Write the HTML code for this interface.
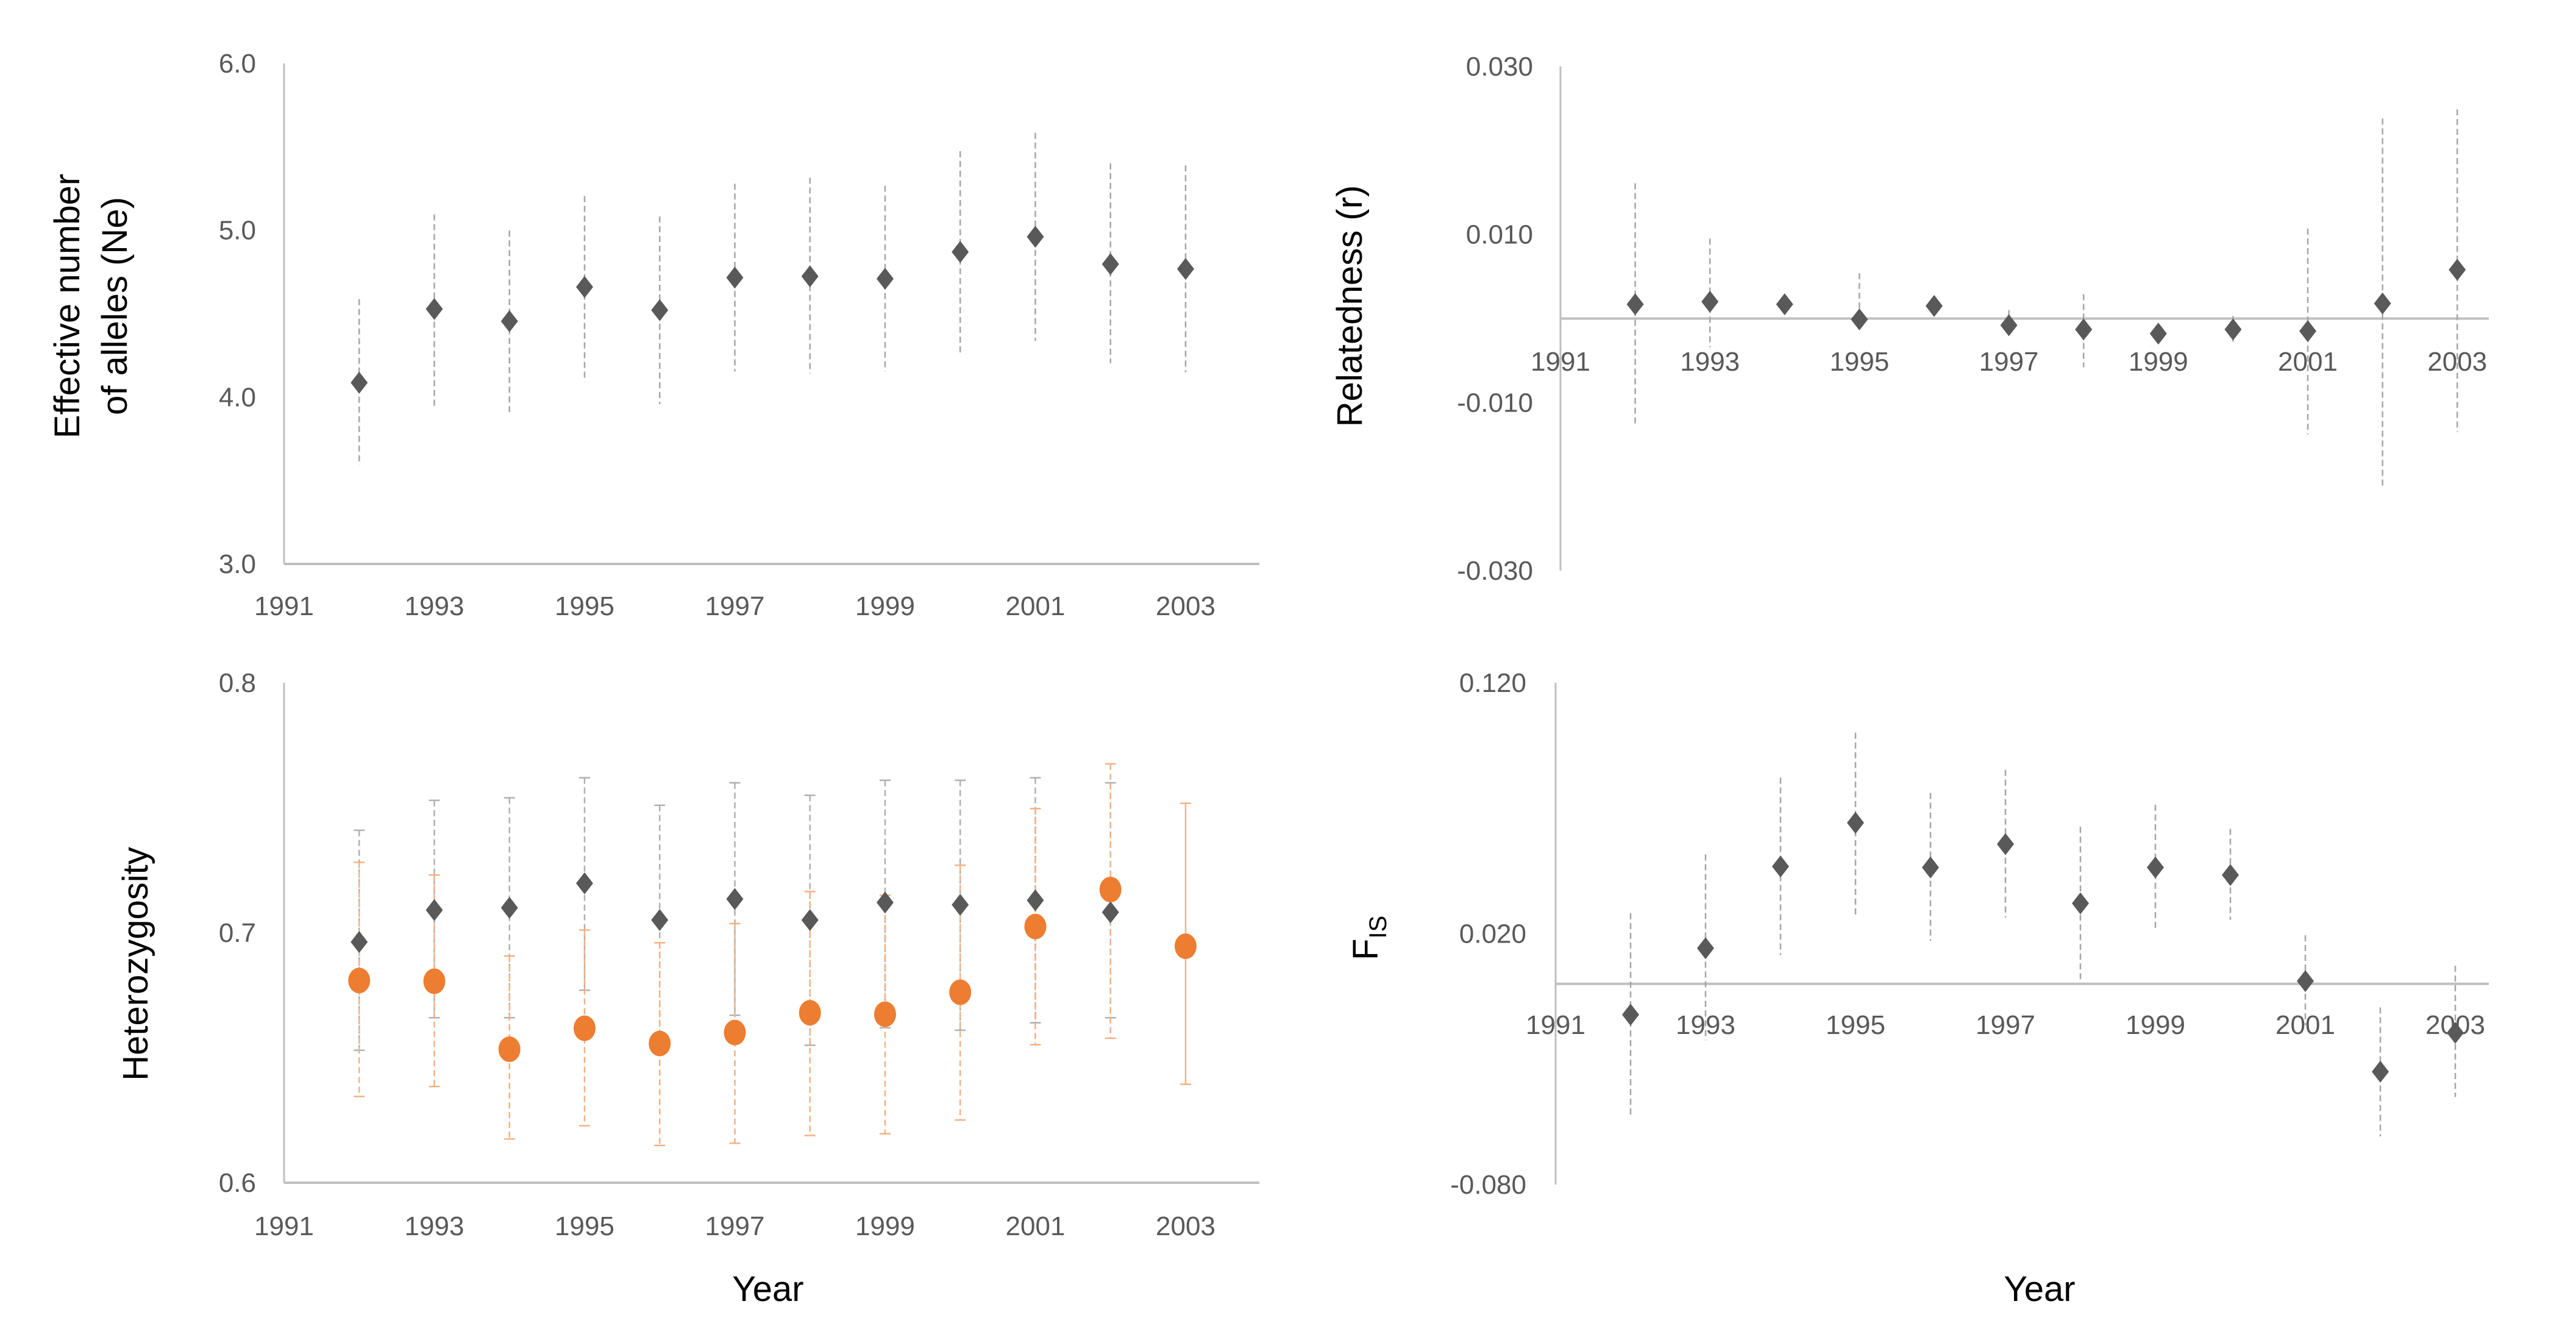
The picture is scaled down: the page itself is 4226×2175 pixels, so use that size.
<!DOCTYPE html>
<html><head><meta charset="utf-8">
<style>
html,body{margin:0;padding:0;background:#fff;}
svg{display:block;}
.tick{font-family:"Liberation Sans Narrow","Liberation Sans",sans-serif;font-size:44px;fill:#595959;}
.title{font-family:"Liberation Sans",sans-serif;font-size:58px;fill:#000;}
</style></head>
<body>
<svg id="fig" width="4226" height="2175" viewBox="0 0 4226 2175" xmlns="http://www.w3.org/2000/svg">
<text class="title" transform="translate(130,502) rotate(-90)" text-anchor="middle">Effective number</text>
<text class="title" transform="translate(208,502) rotate(-90)" text-anchor="middle">of alleles (Ne)</text>
<text class="title" transform="translate(2234,502) rotate(-90)" text-anchor="middle">Relatedness (r)</text>
<text class="title" transform="translate(242,1581) rotate(-90)" text-anchor="middle">Heterozygosity</text>
<text class="title" transform="translate(2260,1575) rotate(-90)">F<tspan font-size="40px" dy="14">IS</tspan></text>
<text class="title" x="1260" y="2134" text-anchor="middle">Year</text>
<text class="title" x="3346" y="2134" text-anchor="middle">Year</text>
</svg>
<script>
const years = [1992,1993,1994,1995,1996,1997,1998,1999,2000,2001,2002,2003];
const xTicks = [1991,1993,1995,1997,1999,2001,2003];

const neValues = [4.086,4.528,4.455,4.660,4.521,4.716,4.724,4.709,4.870,4.961,4.797,4.768];
const neHigh = [4.587,5.095,4.998,5.205,5.083,5.279,5.315,5.267,5.474,5.584,5.401,5.389];
const neLow = [3.592,3.934,3.910,4.093,3.958,4.154,4.142,4.154,4.264,4.337,4.203,4.149];
const neTicks = ["3.0","4.0","5.0","6.0"];

const rValues = [0.0017,0.0020,0.0017,-0.0001,0.0015,-0.0008,-0.0013,-0.0018,-0.0013,-0.0015,0.0018,0.0058];
const rHigh = [0.0161,0.0095,0.0017,0.0054,0.0015,0.0010,0.0029,-0.0018,0.0003,0.0107,0.0238,0.0249];
const rLow = [-0.0126,-0.0034,0.0017,-0.0009,0.0015,-0.0017,-0.0058,-0.0018,-0.0031,-0.0138,-0.0201,-0.0135];
const rTicks = ["-0.030","-0.010","0.010","0.030"];

const hetYears = [1992,1993,1994,1995,1996,1997,1998,1999,2000,2001,2002];
const hetGray = [0.6963,0.7091,0.7100,0.7198,0.7051,0.7135,0.7051,0.7121,0.7112,0.7130,0.7082];
const hetGrayHigh = [0.741,0.753,0.754,0.762,0.751,0.760,0.755,0.761,0.761,0.762,0.760];
const hetGrayLow = [0.653,0.666,0.666,0.677,0.659,0.667,0.655,0.662,0.661,0.664,0.666];
const hetOrange = [0.6809,0.6806,0.6534,0.6618,0.6557,0.6601,0.6680,0.6674,0.6762,0.7025,0.7173,0.6946];
const hetOrangeHigh = [0.7282,0.7231,0.6907,0.7011,0.6960,0.7037,0.7165,0.7150,0.7270,0.7497,0.7676,0.7518];
const hetOrangeLow = [0.6345,0.6385,0.6175,0.6228,0.6149,0.6158,0.6189,0.6196,0.6251,0.6552,0.6578,0.6394];
const hetTicks = ["0.6","0.7","0.8"];

const fisValues = [-0.0123,0.0142,0.0468,0.0642,0.0464,0.0557,0.0321,0.0464,0.0434,0.0011,-0.0350,-0.0195];
const fisHigh = [0.0281,0.0516,0.0822,0.1001,0.0761,0.0853,0.0626,0.0714,0.0618,0.0194,-0.0094,0.0072];
const fisLow = [-0.0530,-0.0225,0.0115,0.0272,0.0171,0.0264,0.0019,0.0217,0.0255,-0.0164,-0.0608,-0.0451];
const fisTicks = ["-0.080","0.020","0.120"];

const NS = "http://www.w3.org/2000/svg";
const svg = document.getElementById('fig');
function mk(tag, attrs){ const e=document.createElementNS(NS,tag); for(const k in attrs) e.setAttribute(k,attrs[k]); svg.appendChild(e); return e; }

function panel(cfg){
  const xs = y => cfg.x0 + (y-1991)*cfg.dx;
  const ys = v => cfg.yTop + (cfg.vMax - v)/(cfg.vMax-cfg.vMin)*(cfg.yBot-cfg.yTop);
  const va = mk('line',{x1:cfg.x0,x2:cfg.x0,y1:cfg.yTop,y2:cfg.yBot,stroke:'#bfbfbf','stroke-width':3});
  
  
  const ha = mk('line',{x1:cfg.x0,x2:cfg.xEnd,y1:ys(cfg.axisV),y2:ys(cfg.axisV),stroke:'#bfbfbf','stroke-width':4});
  
  
  cfg.yTicks.forEach(t=>{
    const e = mk('text',{class:'tick',x:cfg.labelX,y:ys(parseFloat(t))+15,'text-anchor':'end'});
    e.textContent=t;
    
    
  });
  xTicks.forEach(t=>{
    const e = mk('text',{class:'tick',x:xs(t),y:cfg.xLabelY+15,'text-anchor':'middle'});
    e.textContent=t;
    
    
  });
  return {xs,ys};
}
function errBar(xs,ys,yr,hi,lo,color,dash,caps,name){
  const l = mk('line',{x1:xs(yr),x2:xs(yr),y1:ys(hi),y2:ys(lo),stroke:color,'stroke-width':2.5,'stroke-dasharray':dash});
  
  
  if(caps){
    [hi,lo].forEach(v=>{
      const c = mk('line',{x1:xs(yr)-9,x2:xs(yr)+9,y1:ys(v),y2:ys(v),stroke:color,'stroke-width':2.5});
      
      
    });
  }
}
function diamond(xs,ys,yr,v,name){
  const x=xs(yr), y=ys(v);
  const d = mk('polygon',{points:`${x},${y-18} ${x+14},${y} ${x},${y+18} ${x-14},${y}`,fill:'#595959'});
  
  
}
function circle(xs,ys,yr,v,name){
  const c = mk('ellipse',{cx:xs(yr),cy:ys(v),rx:18,ry:21,fill:'#ED7D31'});
  
  
}

// Panel 1: Ne
{
  const p = panel({name:'ne',x0:466,dx:123.25,xEnd:2066,yTop:104,yBot:925,vMin:3,vMax:6,axisV:3,yTicks:neTicks,labelX:420,xLabelY:994});
  years.forEach((yr,i)=>errBar(p.xs,p.ys,yr,neHigh[i],neLow[i],'#a6a6a6','10 6',false,'ne-error-bar'));
  years.forEach((yr,i)=>diamond(p.xs,p.ys,yr,neValues[i],'ne-point'));
}
// Panel 2: relatedness
{
  const p = panel({name:'r',x0:2560,dx:122.6,xEnd:4083,yTop:109,yBot:936,vMin:-0.03,vMax:0.03,axisV:0,yTicks:rTicks,labelX:2515,xLabelY:593});
  years.forEach((yr,i)=>errBar(p.xs,p.ys,yr,rHigh[i],rLow[i],'#a6a6a6','10 6',false,'r-error-bar'));
  years.forEach((yr,i)=>diamond(p.xs,p.ys,yr,rValues[i],'r-point'));
}
// Panel 3: heterozygosity
{
  const p = panel({name:'het',x0:466,dx:123.25,xEnd:2066,yTop:1120,yBot:1940,vMin:0.6,vMax:0.8,axisV:0.6,yTicks:hetTicks,labelX:420,xLabelY:2011});
  hetYears.forEach((yr,i)=>errBar(p.xs,p.ys,yr,hetGrayHigh[i],hetGrayLow[i],'#b0b0b0','10 6',true,'het-observed-error-bar'));
  years.forEach((yr,i)=>errBar(p.xs,p.ys,yr,hetOrangeHigh[i],hetOrangeLow[i],'#F4B183',yr===2003?'none':'10 6',true,'het-expected-error-bar'));
  hetYears.forEach((yr,i)=>diamond(p.xs,p.ys,yr,hetGray[i],'het-observed-point'));
  years.forEach((yr,i)=>circle(p.xs,p.ys,yr,hetOrange[i],'het-expected-point'));
}
// Panel 4: FIS
{
  const p = panel({name:'fis',x0:2552,dx:123,xEnd:4083,yTop:1120,yBot:1943,vMin:-0.08,vMax:0.12,axisV:0,yTicks:fisTicks,labelX:2504,xLabelY:1681});
  years.forEach((yr,i)=>errBar(p.xs,p.ys,yr,fisHigh[i],fisLow[i],'#a6a6a6','10 6',false,'fis-error-bar'));
  years.forEach((yr,i)=>diamond(p.xs,p.ys,yr,fisValues[i],'fis-point'));
}
</script>
</body></html>
